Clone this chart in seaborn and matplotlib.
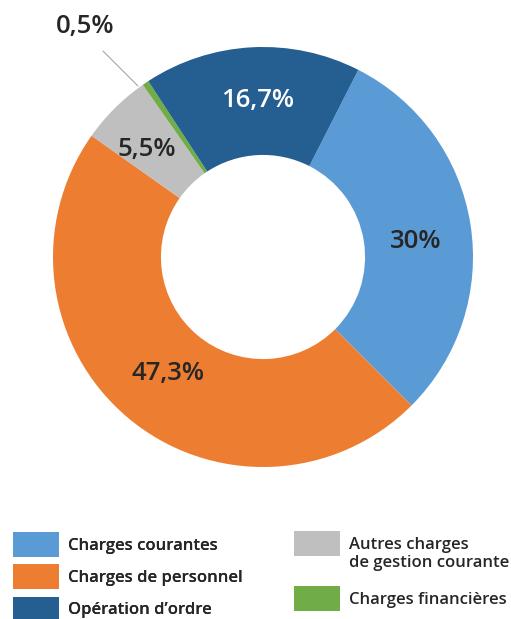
"""Donut chart: répartition des charges de fonctionnement."""

import matplotlib.pyplot as plt
import seaborn as sns

CATEGORIES = [
    "Charges courantes",
    "Charges de personnel",
    "Autres charges",
    "Charges financières",
    "Opération d’ordre",
]
VALUES = [30.0, 47.3, 5.5, 0.5, 16.7]
LABELS = ["30%", "47,3%", "5,5%", "0,5%", "16,7%"]
COLORS = ["#5B9BD5", "#ED7D31", "#BFBFBF", "#70AD47", "#255E91"]
TEXT_COLORS = ["#262626", "#262626", "#262626", "#262626", "#FFFFFF"]
LEFT_LEGEND = [0, 1, 4]
RIGHT_LEGEND = [2, 3]


def main() -> None:
    sns.set_theme(style="white")
    plt.rcParams["font.family"] = ["Open Sans", "DejaVu Sans"]

    fig = plt.figure(figsize=(5.11, 6.19), dpi=100)
    ax = fig.add_axes([53 / 511, 152 / 619, 420 / 511, 420 / 619])

    wedges, _ = ax.pie(
        VALUES,
        colors=COLORS,
        startangle=63,
        counterclock=False,
        radius=1.0,
        wedgeprops={"width": 0.514, "linewidth": 0},
    )
    ax.set_xlim(-1, 1)
    ax.set_ylim(-1, 1)
    ax.set_aspect("equal")
    ax.axis("off")

    # label positions (data coords)
    label_pos = [(0.729, 0.075), (-0.452, -0.557), (-0.552, 0.51), (-0.848, 1.10), (-0.024, 0.745)]
    for i, (x, y) in enumerate(label_pos):
        ax.text(x, y, LABELS[i], ha="center", va="center", fontsize=18.5,
                fontweight="semibold", color=TEXT_COLORS[i], clip_on=False)

    # leader line for the tiny slice
    ax.annotate("", xy=(-0.586, 0.805), xytext=(-0.771, 0.99),
                arrowprops={"arrowstyle": "-", "color": "#A6A6A6", "lw": 0.8},
                annotation_clip=False)

    common = dict(
        loc="upper left",
        frameon=False,
        handlelength=2.75,
        handleheight=1.93,
        handletextpad=0.53,
        borderaxespad=0,
        borderpad=0,
        labelcolor="#262626",
        prop={"size": 12, "weight": "semibold"},
    )
    leg1 = fig.legend(
        [wedges[i] for i in LEFT_LEGEND], [CATEGORIES[i] for i in LEFT_LEGEND],
        bbox_to_anchor=(13 / 511, 1 - 532 / 619), labelspacing=0.44, **common,
    )
    fig.add_artist(leg1)
    fig.legend(
        [wedges[i] for i in RIGHT_LEGEND], [CATEGORIES[i] for i in RIGHT_LEGEND],
        bbox_to_anchor=(294 / 511, 1 - 531 / 619), labelspacing=1.79, **common,
    )
    fig.text(349 / 511, 1 - 563 / 619, "de gestion courante", ha="left", va="center",
             fontsize=12, fontweight="semibold", color="#262626")

    fig.savefig("out.png", dpi=100)


if __name__ == "__main__":
    main()
